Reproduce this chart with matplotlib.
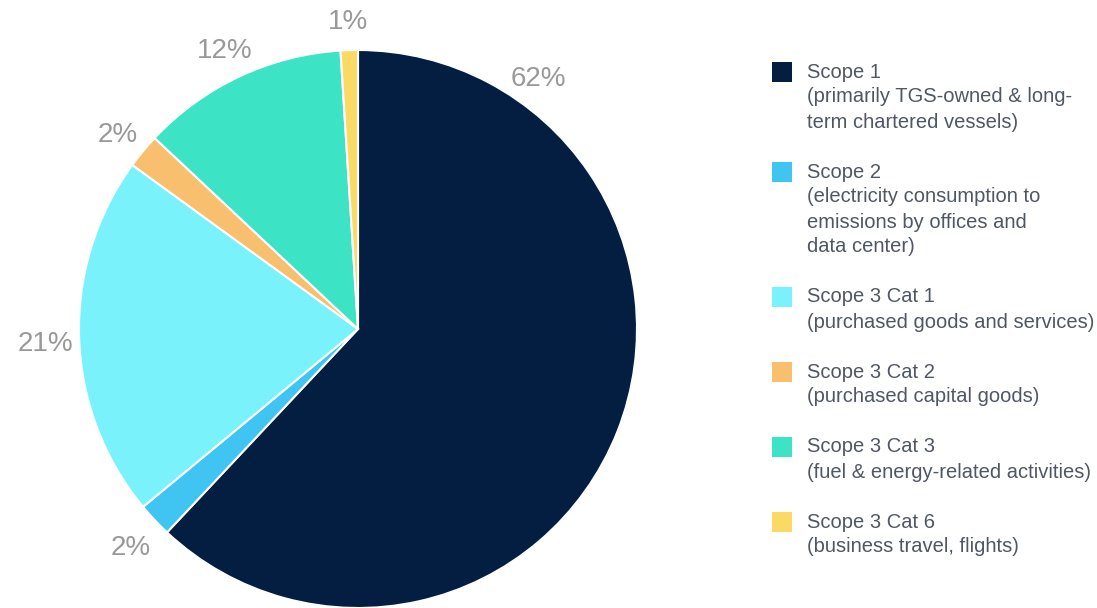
import numpy as np
import matplotlib
matplotlib.use('Agg')
from matplotlib import pyplot as plt
from matplotlib.patches import Rectangle

plt.rcParams['font.family'] = ['Liberation Sans', 'DejaVu Sans']

# data
categories = ['Scope 1', 'Scope 2', 'Scope 3 Cat 1', 'Scope 3 Cat 2', 'Scope 3 Cat 3', 'Scope 3 Cat 6']
descriptions = [
    ['(primarily TGS-owned & long-', 'term chartered vessels)'],
    ['(electricity consumption to', 'emissions by offices and', 'data center)'],
    ['(purchased goods and services)'],
    ['(purchased capital goods)'],
    ['(fuel & energy-related activities)'],
    ['(business travel, flights)'],
]
shares = [62, 2, 21, 2, 12, 1]
colors = ['#041E42', '#40C4F2', '#7AF2FB', '#F7BF6E', '#3CE3C5', '#FADA64']

W, H = 1097, 608
fig = plt.figure(figsize=(W / 100, H / 100), dpi=100)

# pie axes: centre (358, 329) px, radius 279 px
cx, cy, r = 358, 329, 279
ax = fig.add_axes([(cx - r) / W, (H - cy - r) / H, 2 * r / W, 2 * r / H])
wedges, _ = ax.pie(shares, colors=colors, startangle=90, counterclock=False,
                   radius=1, wedgeprops=dict(edgecolor='white', linewidth=1.5))
ax.set_xlim(-1, 1)
ax.set_ylim(-1, 1)
ax.set_aspect('equal')
ax.axis('off')

for i, (w, s) in enumerate(zip(wedges, shares)):
    ang = (w.theta1 + w.theta2) / 2
    dist = 1.12
    if i == 0:
        ang = 54.7
    x = dist * np.cos(np.radians(ang))
    y = dist * np.sin(np.radians(ang)) - 0.018
    ax.text(x, y, f'{s}%', ha='center', va='center', fontsize=20, color='#999999')

# legend drawn by hand so the swatch lines up with the first line
lax = fig.add_axes([0, 0, 1, 1])
lax.set_xlim(0, W)
lax.set_ylim(H, 0)
lax.axis('off')
y = 72
line = 25
for name, desc, col in zip(categories, descriptions, colors):
    lax.add_patch(Rectangle((772, y - 10), 20, 20, facecolor=col, edgecolor='none'))
    for j, t in enumerate([name] + desc):
        lax.text(807, y + j * line, t, ha='left', va='center', fontsize=14.5, color='#4F5763')
    y += (len(desc) + 1) * line + line

fig.savefig('out.png', dpi=100)
